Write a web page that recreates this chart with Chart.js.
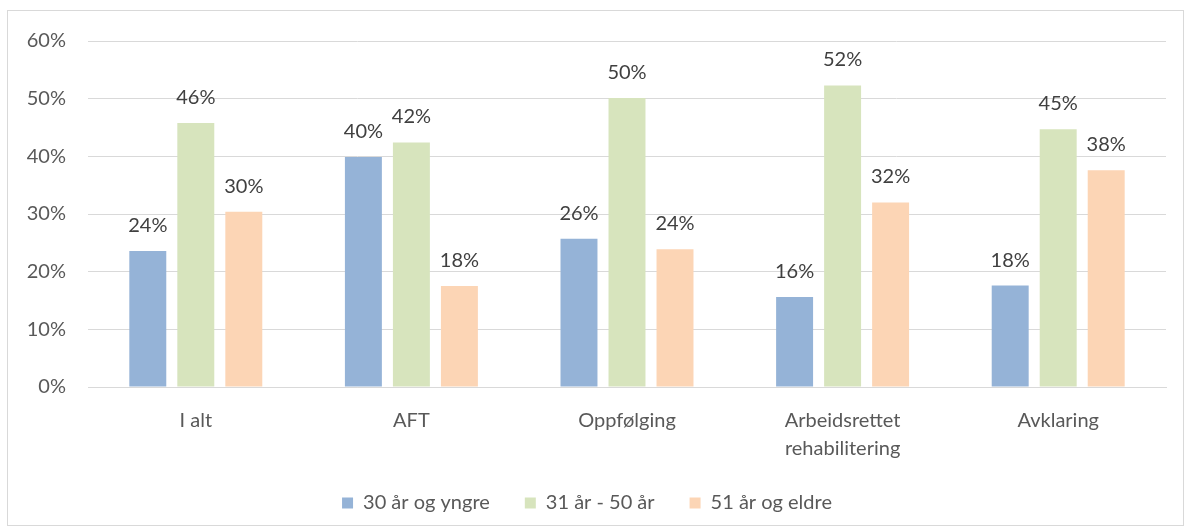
<!DOCTYPE html>
<html>
<head>
<meta charset="utf-8">
<script src="https://cdn.jsdelivr.net/npm/chart.js@4"></script>
<style>
  body { margin: 0; background: #fff; }
  #frame { position: absolute; left: 7px; top: 10px; width: 1175px; height: 514px; border: 1px solid #d9d9d9; }
  #wrap { position: absolute; left: 0; top: 0; width: 1190px; height: 532px; }
</style>
</head>
<body>
<div id="frame"></div>
<div id="wrap"><canvas id="chart" width="1190" height="532"></canvas></div>
<script>
const categories = ["I alt", "AFT", "Oppfølging", ["Arbeidsrettet", "rehabilitering"], "Avklaring"];
const seriesNames = ["30 år og yngre", "31 år - 50 år", "51 år og eldre"];
const young = [23.6, 39.9, 25.7, 15.6, 17.6];
const middle = [45.8, 42.4, 50.1, 52.3, 44.7];
const older = [30.4, 17.5, 23.9, 32.0, 37.6];
const yTicks = [0, 10, 20, 30, 40, 50, 60];

const colors = ["#95b3d7", "#d7e4bd", "#fcd5b5"];
const fontFamily = "Lato, 'Open Sans', sans-serif";

const barLabels = {
    id: "barLabels",
    afterDatasetsDraw(chart) {
        const ctx = chart.ctx;
        ctx.save();
        ctx.font = "20px " + fontFamily;
        ctx.fillStyle = "#404040";
        ctx.textAlign = "center";
        ctx.textBaseline = "alphabetic";
        chart.data.datasets.forEach((ds, i) => {
            chart.getDatasetMeta(i).data.forEach((bar, j) => {
                ctx.fillText(Math.round(ds.data[j]) + "%", bar.x, bar.y - 19);
            });
        });
        ctx.restore();
    }
};

// legend padding is wide (item spacing), so take less room in the layout
// and then move the box so the row sits near the bottom
const legendPlace = {
    id: "legendPlace",
    beforeLayout(chart) {
        const lg = chart.legend;
        if (lg && !lg._patched) {
            const fit = lg.fit.bind(lg);
            lg.fit = function () { fit(); this.height = 40; };
            lg._patched = true;
        }
    },
    afterLayout(chart) {
        const lg = chart.legend;
        lg.top = 458;
        lg.bottom = lg.top + 90;
        lg.height = 90;
    }
};

new Chart(document.getElementById("chart"), {
    type: "bar",
    data: {
        labels: categories,
        datasets: [
            { label: seriesNames[0], data: young, backgroundColor: colors[0] },
            { label: seriesNames[1], data: middle, backgroundColor: colors[1] },
            { label: seriesNames[2], data: older, backgroundColor: colors[2] }
        ]
    },
    options: {
        responsive: false,
        animation: false,
        layout: { padding: { left: 8, right: 24, top: 41, bottom: 30 } },
        datasets: { bar: { categoryPercentage: 0.668, barPercentage: 0.77 } },
        plugins: {
            tooltip: { enabled: false },
            legend: {
                position: "bottom",
                labels: {
                    font: { family: fontFamily, size: 20 },
                    color: "#595959",
                    boxWidth: 11,
                    boxHeight: 11,
                    padding: 35
                }
            }
        },
        scales: {
            x: {
                grid: { display: false },
                border: { color: "#d9d9d9" },
                ticks: { font: { family: fontFamily, size: 20, lineHeight: 1.4 }, color: "#595959", padding: 12, maxRotation: 0 },
                afterFit: s => { s.height = 75; }
            },
            y: {
                min: 0, max: 60,
                afterBuildTicks: s => { s.ticks = yTicks.map(v => ({ value: v })); },
                grid: { color: "#d9d9d9", drawTicks: false },
                border: { display: false },
                ticks: { font: { family: fontFamily, size: 20 }, color: "#595959", padding: 22, callback: v => v + "%" },
                afterFit: s => { s.width = 80; }
            }
        }
    },
    plugins: [barLabels, legendPlace]
});
</script>
</body>
</html>
